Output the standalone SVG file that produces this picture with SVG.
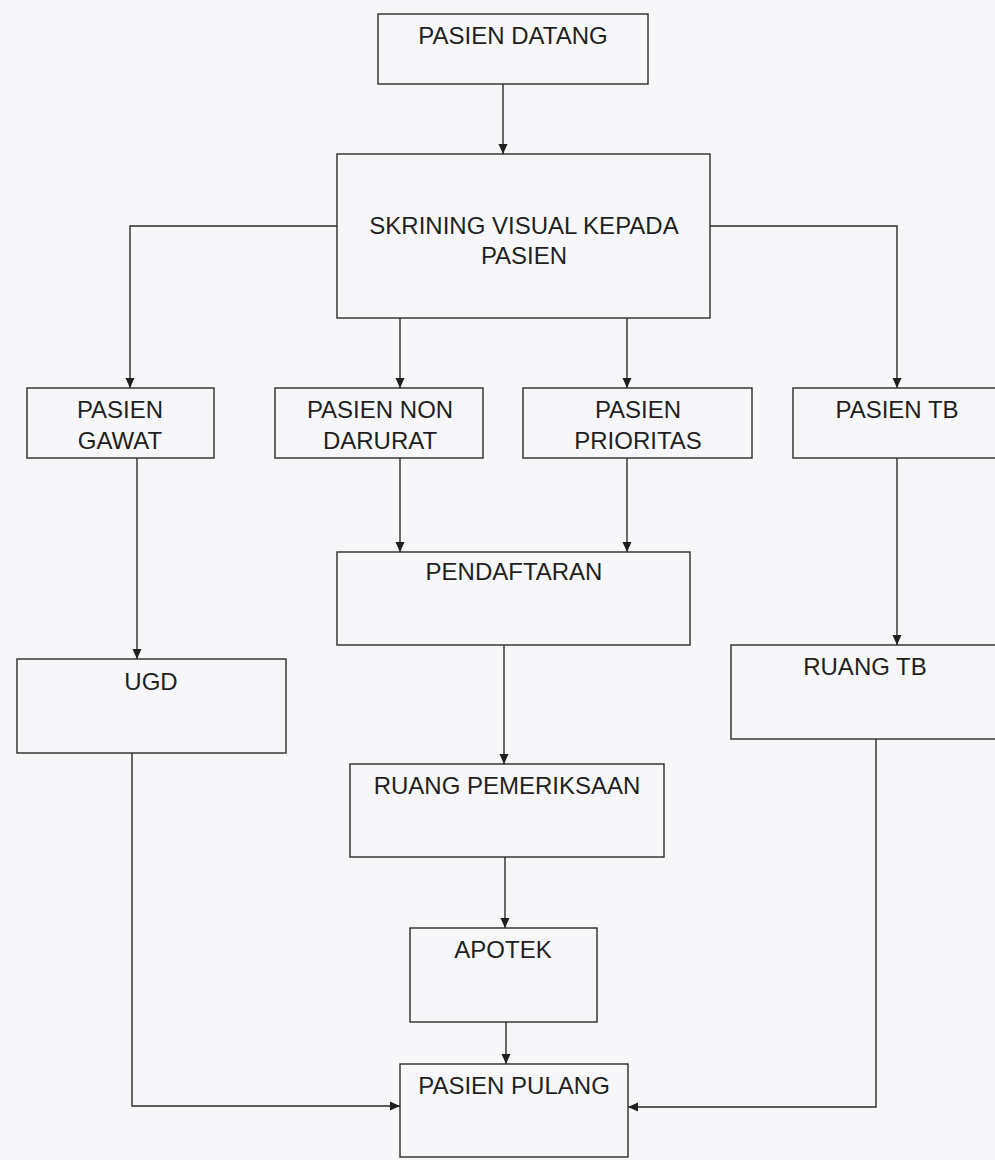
<svg xmlns="http://www.w3.org/2000/svg" width="995" height="1160" viewBox="0 0 995 1160">
<defs>
<style>
.box{fill:none;stroke:#2b2b2b;stroke-width:1.4}
.lbl{font-family:"Liberation Sans",Arial,sans-serif;font-size:24px;fill:#1f1f1f;text-anchor:middle}
.con{fill:none;stroke:#2b2b2b;stroke-width:1.4}
</style>
<marker id="ah" viewBox="0 0 10 10" refX="10" refY="5" markerWidth="10" markerHeight="10" markerUnits="userSpaceOnUse" orient="auto">
<path d="M0,0.5 L10,5 L0,9.5 Z" fill="#1f1f1f"/>
</marker>
</defs>
<rect x="0" y="0" width="995" height="1160" fill="#f7f7f9"/>
<g id="n-datang"><rect class="box" x="378" y="14" width="270" height="70"/><text class="lbl" x="513" y="44">PASIEN DATANG</text></g>
<g id="n-skrining"><rect class="box" x="337" y="154" width="373" height="164"/><text class="lbl" x="524" y="234">SKRINING VISUAL KEPADA</text><text class="lbl" x="524" y="264">PASIEN</text></g>
<g id="n-gawat"><rect class="box" x="27" y="388" width="187" height="70"/><text class="lbl" x="120" y="418">PASIEN</text><text class="lbl" x="120" y="449">GAWAT</text></g>
<g id="n-nondarurat"><rect class="box" x="275" y="388" width="208" height="70"/><text class="lbl" x="380" y="418">PASIEN NON</text><text class="lbl" x="380" y="449">DARURAT</text></g>
<g id="n-prioritas"><rect class="box" x="523" y="388" width="229" height="70"/><text class="lbl" x="638" y="418">PASIEN</text><text class="lbl" x="638" y="449">PRIORITAS</text></g>
<g id="n-tb"><rect class="box" x="793" y="388" width="210" height="70"/><text class="lbl" x="897" y="418">PASIEN TB</text></g>
<g id="n-pendaftaran"><rect class="box" x="337" y="552" width="353" height="93"/><text class="lbl" x="514" y="580">PENDAFTARAN</text></g>
<g id="n-ugd"><rect class="box" x="17" y="659" width="269" height="94"/><text class="lbl" x="151" y="690">UGD</text></g>
<g id="n-ruangtb"><rect class="box" x="731" y="645" width="272" height="94"/><text class="lbl" x="865" y="675">RUANG TB</text></g>
<g id="n-pemeriksaan"><rect class="box" x="350" y="764" width="314" height="93"/><text class="lbl" x="507" y="794">RUANG PEMERIKSAAN</text></g>
<g id="n-apotek"><rect class="box" x="410" y="928" width="187" height="94"/><text class="lbl" x="503" y="958">APOTEK</text></g>
<g id="n-pulang"><rect class="box" x="400" y="1064" width="228" height="93"/><text class="lbl" x="514" y="1094">PASIEN PULANG</text></g>
<g id="connectors">
<path class="con" marker-end="url(#ah)" d="M503,84 L503,154"/>
<path class="con" marker-end="url(#ah)" d="M337,226 L130,226 L130,388"/>
<path class="con" marker-end="url(#ah)" d="M400,318 L400,388"/>
<path class="con" marker-end="url(#ah)" d="M627,318 L627,388"/>
<path class="con" marker-end="url(#ah)" d="M710,226 L897,226 L897,388"/>
<path class="con" marker-end="url(#ah)" d="M137,458 L137,659"/>
<path class="con" marker-end="url(#ah)" d="M400,458 L400,552"/>
<path class="con" marker-end="url(#ah)" d="M627,458 L627,552"/>
<path class="con" marker-end="url(#ah)" d="M897,458 L897,645"/>
<path class="con" marker-end="url(#ah)" d="M504,645 L504,764"/>
<path class="con" marker-end="url(#ah)" d="M505,857 L505,928"/>
<path class="con" marker-end="url(#ah)" d="M506,1022 L506,1064"/>
<path class="con" marker-end="url(#ah)" d="M132,753 L132,1106 L400,1106"/>
<path class="con" marker-end="url(#ah)" d="M876,739 L876,1107 L628,1107"/>
</g>
</svg>
